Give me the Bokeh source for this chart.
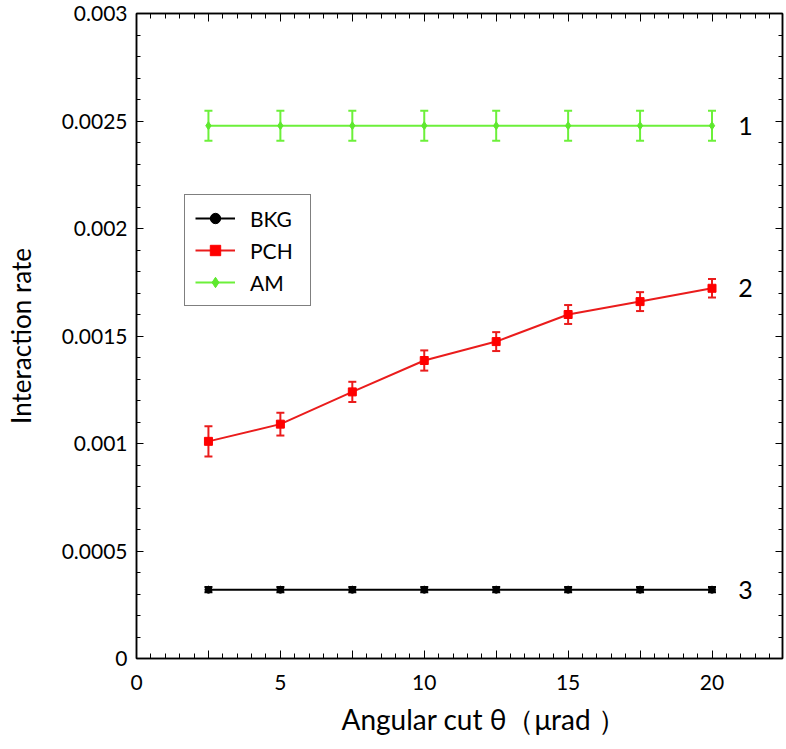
from bokeh.plotting import figure
from bokeh.models import (ColumnDataSource, Range1d, LinearAxis, FixedTicker, Whisker, TeeHead,
                          Legend, LegendItem, Label, CustomJSTickFormatter, Title)
from bokeh.embed import file_html
from bokeh.resources import INLINE

# ---- data ----
theta = [2.5, 5.0, 7.5, 10.0, 12.5, 15.0, 17.5, 20.0]
bkg = [0.00032, 0.00032, 0.00032, 0.00032, 0.00032, 0.00032, 0.00032, 0.00032]
bkg_err = [0.000012, 0.000012, 0.000012, 0.000012, 0.000012, 0.000012, 0.000012, 0.000012]
pch = [0.00101, 0.00109, 0.00124, 0.001386, 0.001474, 0.0016, 0.00166, 0.001722]
pch_err = [0.00007, 0.000053, 0.000047, 0.000047, 0.000044, 0.000044, 0.000044, 0.000043]
am = [0.002478, 0.002478, 0.002478, 0.002478, 0.002478, 0.002478, 0.002478, 0.002478]
am_err = [0.00007, 0.00007, 0.00007, 0.00007, 0.00007, 0.00007, 0.00007, 0.00007]

series_names = ["BKG", "PCH", "AM"]
curve_ids = ["3", "2", "1"]

x_ticks = [0, 2.5, 5, 7.5, 10, 12.5, 15, 17.5, 20]
x_tick_labels = ["0", "", "5", "", "10", "", "15", "", "20"]
x_minor = [i * 0.5 for i in range(46)]
y_ticks = [0, 0.0005, 0.001, 0.0015, 0.002, 0.0025, 0.003]
y_tick_labels = ["0", "0.0005", "0.001", "0.0015", "0.002", "0.0025", "0.003"]
y_minor = [i * 0.0001 for i in range(31)]

x_title = "Angular cut θ（μrad ）"
y_title = "Interaction rate"

FONT = "Lato"

p = figure(width=786, height=749, x_range=Range1d(0, 22.45), y_range=Range1d(0, 0.003),
           output_backend="svg", toolbar_location=None,
           min_border_left=136, min_border_right=4, min_border_top=13, min_border_bottom=91)
p.xgrid.visible = False
p.ygrid.visible = False
p.outline_line_color = "black"
p.outline_line_width = 1.5
p.background_fill_color = "white"
p.border_fill_color = "white"


def make_fmt(tv, tl):
    return CustomJSTickFormatter(args=dict(tv=tv, tl=tl), code="""
        for (let i = 0; i < tv.length; i++) { if (Math.abs(tv[i] - tick) < 1e-9) return tl[i]; }
        return '';
    """)


empty_fmt = CustomJSTickFormatter(code="return '';")

xticker = FixedTicker(ticks=x_ticks, minor_ticks=x_minor)
yticker = FixedTicker(ticks=y_ticks, minor_ticks=y_minor)


def style_axis(ax, major_in, minor_in):
    ax.major_tick_in = major_in
    ax.major_tick_out = 0
    ax.minor_tick_in = minor_in
    ax.minor_tick_out = 0
    ax.axis_line_color = "black"
    ax.axis_line_width = 1.5
    ax.major_tick_line_color = "black"
    ax.minor_tick_line_color = "black"
    ax.major_tick_line_width = 1
    ax.minor_tick_line_width = 1


xa = p.xaxis[0]
xa.ticker = xticker
xa.formatter = make_fmt(x_ticks, x_tick_labels)
style_axis(xa, 8, 5)
xa.major_label_text_font = FONT
xa.major_label_text_font_size = "21px"
xa.major_label_text_color = "black"
xa.major_label_standoff = 16

p.add_layout(Title(text=x_title, align="left", offset=205, standoff=14,
                   text_font=FONT, text_font_size="28px", text_font_style="normal",
                   text_color="black"), "below")

ya = p.yaxis[0]
ya.ticker = yticker
ya.formatter = make_fmt(y_ticks, y_tick_labels)
style_axis(ya, 7, 4)
ya.major_label_text_font = FONT
ya.major_label_text_font_size = "21px"
ya.major_label_text_color = "black"
ya.major_label_standoff = 9
ya.axis_label = y_title
ya.axis_label_text_font = FONT
ya.axis_label_text_font_size = "26px"
ya.axis_label_text_font_style = "normal"
ya.axis_label_text_color = "black"
ya.axis_label_standoff = 22

top = LinearAxis(ticker=xticker, formatter=empty_fmt, major_label_standoff=0)
style_axis(top, 8, 5)
p.add_layout(top, "above")
right = LinearAxis(ticker=yticker, formatter=empty_fmt, major_label_standoff=0)
style_axis(right, 7, 4)
p.add_layout(right, "right")

colors = ["#000000", "#ea1c1c", "#6cf03a"]
marker_colors = ["#000000", "#ff0000", "#5ee82e"]
markers = ["circle", "square", "diamond"]
marker_sizes = [7, 8, 8]
values = [bkg, pch, am]
errors = [bkg_err, pch_err, am_err]

items = []
for name, col, mcol, mk, ms, v, e in zip(series_names, colors, marker_colors, markers, marker_sizes, values, errors):
    src = ColumnDataSource(dict(x=theta, y=v,
                                lo=[a - b for a, b in zip(v, e)],
                                hi=[a + b for a, b in zip(v, e)]))
    lr = p.line("x", "y", source=src, line_color=col, line_width=2)
    w = Whisker(source=src, base="x", lower="lo", upper="hi", dimension="height",
                line_color=col, line_width=2,
                upper_head=TeeHead(size=8, line_color=col, line_width=2),
                lower_head=TeeHead(size=8, line_color=col, line_width=2))
    p.add_layout(w)
    sr = p.scatter("x", "y", source=src, marker=mk, size=ms, fill_color=mcol, line_color=mcol)
    items.append(LegendItem(label=name, renderers=[lr, sr]))

legend = Legend(items=items, location=(48, 352), padding=10, spacing=6,
                label_height=26, glyph_height=26, glyph_width=40, label_standoff=15,
                label_width=50,
                label_text_font=FONT, label_text_font_size="21px", label_text_color="black",
                border_line_color="black", border_line_width=1.5, background_fill_alpha=1.0,
                margin=0)
p.add_layout(legend, "center")

for cid, v in zip(curve_ids, values):
    p.add_layout(Label(x=21.16, y=v[-1], text=cid, text_align="center", text_baseline="middle",
                       text_font=FONT, text_font_size="25px", text_color="black"))

open("out.html", "w").write(file_html(p, INLINE))
